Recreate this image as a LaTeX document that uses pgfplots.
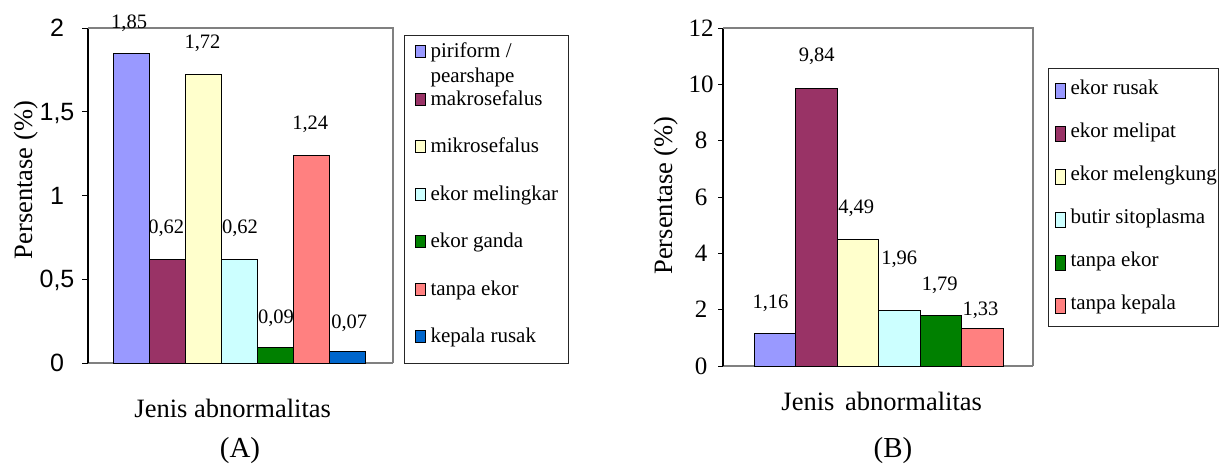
\documentclass[border=0pt]{standalone}
\usepackage{fontspec}
\setmainfont{Liberation Serif}
\newfontfamily\arialfont{Liberation Sans}
\usepackage{pgfplots}
\pgfplotsset{compat=1.18}
\definecolor{cA}{HTML}{9999FF}
\definecolor{cB}{HTML}{993366}
\definecolor{cC}{HTML}{FFFFCC}
\definecolor{cD}{HTML}{CCFFFF}
\definecolor{cE}{HTML}{008000}
\definecolor{cF}{HTML}{FF8080}
\definecolor{cG}{HTML}{0066CC}
\definecolor{framec}{HTML}{808080}
\pgfplotsset{
  mybar/.style={ybar, bar width=1, bar shift=0pt, draw=black, line width=1pt, fill=#1},
  labs/.style={draw=none, mark=none, forget plot, nodes near coords, point meta=explicit symbolic,
    every node near coord/.append style={anchor=base, inner sep=0pt, text=black, font=\fontsize{20.5}{24}\selectfont}},
  common/.style={
    scale only axis, clip=false,
    axis lines=left,
    axis line style={-},
    x axis line style={draw=framec, line width=1.3pt},
    y axis line style={draw=black, line width=1.3pt},
    xtick=\empty,
    tick align=outside,
    ytick pos=left,
    major tick length=6pt,
    every tick/.style={black, line width=1pt},
    /pgf/number format/use comma,
    /pgf/number format/assume math mode=true,
    yticklabel style={anchor=center, inner sep=0pt, text depth=0pt},
    legend style={draw=black!85, line width=1pt, cells={anchor=base west}, column sep=5pt},
  },
}
\begin{document}
\begin{tikzpicture}
\useasboundingbox (0pt,0pt) rectangle (1226pt,-464pt);
% ---------------- Panel A ----------------
\begin{axis}[common, at={(88pt,-363pt)}, anchor=south west, width=305pt, height=335pt,
  xmin=-1.222, xmax=7.25, ymin=0, ymax=2, ytick={0,0.5,1,1.5,2},
  yticklabel style={font=\arialfont\fontsize{25}{30}\selectfont, xshift=-25pt},
  legend style={at={(axis description cs:1.0361,0.9791)}, anchor=north west,
    inner xsep=10pt, inner ysep=6pt, row sep=16.5pt,
    nodes={inner sep=0pt, text height=16pt, text depth=15pt},
    font=\fontsize{21}{24.5}\selectfont},
  legend image code/.code={\draw[#1] (0pt,0pt) rectangle (10pt,12pt);},
]
\addplot[mybar=cA] coordinates {(0,1.85)};
\addlegendentry{\smash{\begin{tabular}[t]{@{}l@{}}piriform /\\pearshape\end{tabular}}}
\addplot[mybar=cB] coordinates {(1,0.62)};
\addlegendentry{makrosefalus}
\addplot[mybar=cC] coordinates {(2,1.72)};
\addlegendentry{mikrosefalus}
\addplot[mybar=cD] coordinates {(3,0.62)};
\addlegendentry{ekor melingkar}
\addplot[mybar=cE] coordinates {(4,0.09)};
\addlegendentry{ekor ganda}
\addplot[mybar=cF] coordinates {(5,1.24)};
\addlegendentry{tanpa ekor}
\addplot[mybar=cG] coordinates {(6,0.07)};
\addlegendentry{kepala rusak}
\addplot[labs] coordinates {(-0.078,1.998) [1,85] (0.953,0.774) [0,62] (1.959,1.879) [1,72]
  (3.0,0.774) [0,62] (4.0,0.233) [0,09] (4.953,1.395) [1,24] (6.036,0.207) [0,07]};
\draw[framec, line width=1.3pt] (rel axis cs:0,1) -- (rel axis cs:1,1) -- (rel axis cs:1,0);
\end{axis}
% ---------------- Panel B ----------------
\begin{axis}[common, at={(723pt,-366pt)}, anchor=south west, width=310pt, height=338pt,
  xmin=-1.247, xmax=6.223, ymin=0, ymax=12, ytick={0,2,4,6,8,10,12},
  major tick length=5pt,
  yticklabel style={font=\fontsize{25}{30}\selectfont, xshift=-17pt},
  legend style={at={(axis description cs:1.04839,0.88166)}, anchor=north west,
    inner xsep=2pt, inner ysep=5pt, row sep=10pt,
    nodes={inner sep=0pt, text height=21pt, text depth=12pt},
    font=\fontsize{21}{24.5}\selectfont},
  legend image code/.code={\path (-4pt,0pt); \draw[#1] (0pt,-4pt) rectangle (10pt,11pt);},
]
\addplot[mybar=cA] coordinates {(0,1.16)};
\addlegendentry{ekor rusak}
\addplot[mybar=cB] coordinates {(1,9.84)};
\addlegendentry{ekor melipat}
\addplot[mybar=cC] coordinates {(2,4.49)};
\addlegendentry{ekor melengkung}
\addplot[mybar=cD] coordinates {(3,1.96)};
\addlegendentry{butir sitoplasma}
\addplot[mybar=cE] coordinates {(4,1.79)};
\addlegendentry{tanpa ekor}
\addplot[mybar=cF] coordinates {(5,1.33)};
\addlegendentry{tanpa kepala}
\addplot[labs] coordinates {(-0.102,2.048) [1,16] (1.011,10.80) [9,84] (1.963,5.42) [4,49]
  (2.999,3.586) [1,96] (3.975,2.698) [1,79] (4.958,1.81) [1,33]};
\draw[framec, line width=1.3pt] (rel axis cs:0,1) -- (rel axis cs:1,1) -- (rel axis cs:1,0);
\end{axis}
% ---------------- Texts ----------------
\node[rotate=90, anchor=base, font=\fontsize{26.5}{30}\selectfont] at (32pt,-180pt) {Persentase (\%)};
\node[rotate=90, anchor=base, font=\fontsize{26.5}{30}\selectfont] at (672pt,-195.5pt) {Persentase (\%)};
\node[anchor=base, font=\fontsize{26.5}{30}\selectfont] at (232.7pt,-417pt) {Jenis abnormalitas};
\node[anchor=base, font=\fontsize{26.5}{30}\selectfont] at (881.7pt,-410pt) {Jenis\hspace{0.4em}abnormalitas};
\node[anchor=base, font=\fontsize{29}{33}\selectfont] at (240pt,-457pt) {(A)};
\node[anchor=base, font=\fontsize{29}{33}\selectfont] at (893pt,-457pt) {(B)};
\end{tikzpicture}
\end{document}
